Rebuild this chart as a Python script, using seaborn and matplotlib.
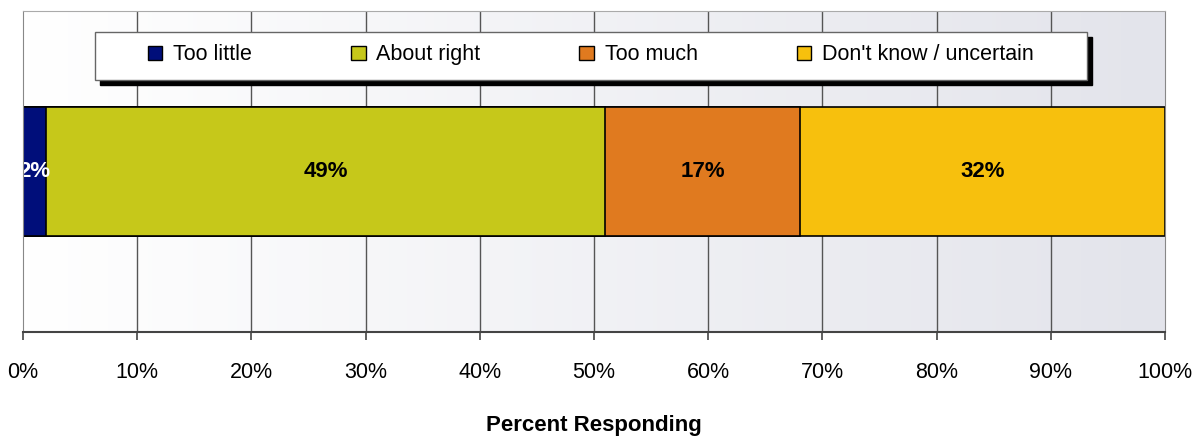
import numpy as np
import pandas as pd
import seaborn as sns
import matplotlib.pyplot as plt
from matplotlib.patches import Rectangle, Patch

categories = ["Too little", "About right", "Too much", "Don't know / uncertain"]
values = [2, 49, 17, 32]
colors = ["#000e7a", "#c6c81a", "#e07a1f", "#f7c00d"]
label_colors = ["white", "black", "black", "black"]
tick_values = list(range(0, 101, 10))

sns.set_style("white")
plt.rcParams['font.family'] = ['Liberation Sans', 'DejaVu Sans']
plt.rcParams['text.color'] = 'black'
plt.rcParams['xtick.color'] = 'black'
plt.rcParams['axes.labelcolor'] = 'black'

fig = plt.figure(figsize=(12.01, 4.43), dpi=100)
ax = fig.add_axes([0.01915, 0.2506, 0.9509, 0.7246])

# gradient background
grad = np.linspace(0, 1, 256).reshape(1, -1)
bg = np.ones((1, 256, 3))
end = np.array([227, 228, 235]) / 255
bg[0] = 1 - grad.T * (1 - end)
ax.imshow(bg, extent=[0, 1, 0, 1], transform=ax.transAxes, aspect='auto', zorder=0)

# stacked bar drawn as overlapping cumulative bars
cum = np.cumsum(values)
df = pd.DataFrame({"cat": categories, "value": values, "cum": cum})
for i in range(len(df) - 1, -1, -1):
    sns.barplot(x=[df["cum"][i]], y=["row"], color=colors[i], orient='h',
                width=0.4, edgecolor='black', linewidth=1.2, saturation=1, ax=ax, zorder=3)

for i, row in df.iterrows():
    ax.text(row["cum"] - row["value"] / 2, 0, f"{row['value']}%", ha='center', va='center',
            fontsize=16, fontweight='bold', color=label_colors[i], zorder=5)

ax.set_xlim(0, 100)
ax.set_ylim(0.5, -0.5)
ax.set_xticks(tick_values)
ax.set_xticklabels([f"{t}%" for t in tick_values], fontsize=15.5)
ax.set_yticks([])
ax.set_ylabel('')
ax.tick_params(axis='x', bottom=True, direction='out', length=5.8, width=1.2,
               color='#444444', labelcolor='black', pad=16)
for t in tick_values[1:-1]:
    ax.axvline(t, color='#555555', lw=1, zorder=1)

ax.spines['bottom'].set_color('#444444')
ax.spines['bottom'].set_linewidth(1.5)
ax.spines['left'].set_color('#888888')
ax.spines['right'].set_color('#888888')
ax.spines['top'].set_color('#aaaaaa')
for s in ax.spines.values():
    s.set_zorder(6)

ax.set_xlabel("Percent Responding", fontsize=16, fontweight='bold', labelpad=23)

# legend box with shadow
bx, by, bw, bh = 0.063, 0.785, 0.8687, 0.1495
ax.add_patch(Rectangle((bx + 0.0045, by - 0.017), bw, bh, transform=ax.transAxes,
                       facecolor='black', edgecolor='black', zorder=7))
ax.add_patch(Rectangle((bx, by), bw, bh, transform=ax.transAxes,
                       facecolor='white', edgecolor='#666666', lw=1, zorder=8))
handles = [Patch(facecolor=c, edgecolor='black', label=l) for c, l in zip(colors, categories)]
leg = ax.legend(handles=handles, loc='center left', bbox_to_anchor=((148 - 23) / 1142, 1 - (55 - 11) / 321),
                ncol=4, frameon=False, fontsize=15.5, handlelength=0.67, handleheight=0.67,
                handletextpad=0.5, columnspacing=4.6, borderpad=0, borderaxespad=0)
leg.set_zorder(9)

fig.savefig("out.png", dpi=100)
